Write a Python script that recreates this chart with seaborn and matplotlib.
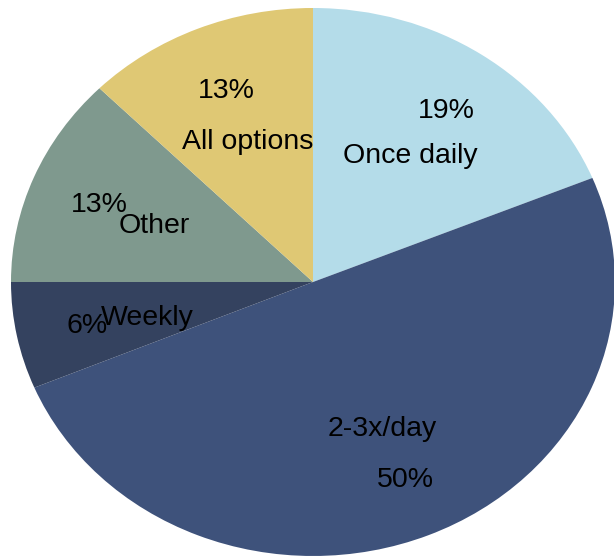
import matplotlib
matplotlib.use("Agg")
import matplotlib.pyplot as plt
import seaborn as sns

# ---- data ----
categories = ["Once daily", "2-3x/day", "Weekly", "Other", "All options"]
shares = [18.8, 49.9, 6.3, 12.5, 12.5]          # wedge sizes
pct_labels = ["19%", "50%", "6%", "13%", "13%"]  # printed percentages
colors = ["#b4dce9", "#3e527b", "#34425f", "#7f998e", "#dfc874"]

# ---- layout (pixel positions of label baselines, from top-left) ----
W, H = 614, 557
name_pos = [(410, 163), (382, 436), (147, 325), (154, 233), (248, 149)]
pct_pos = [(446, 118), (405, 487), (87, 333), (99, 212), (226, 98)]

sns.set_theme(style="white")
plt.rcParams["font.family"] = ["Liberation Sans", "DejaVu Sans"]

fig = plt.figure(figsize=(W / 100, H / 100), dpi=100)
cx, cy, rx, ry = 313, 282, 302, 274
ax = fig.add_axes([(cx - rx) / W, (H - (cy + ry)) / H, 2 * rx / W, 2 * ry / H])
ax.pie(shares, colors=colors, startangle=90, counterclock=False,
       wedgeprops=dict(linewidth=0))
ax.set_aspect("auto")
ax.set_xlim(-1, 1)
ax.set_ylim(-1, 1)
ax.axis("off")

for name, (x, y) in zip(categories, name_pos):
    fig.text(x / W, 1 - y / H, name, ha="center", va="baseline",
             fontsize=20.5, color="black")
for p, (x, y) in zip(pct_labels, pct_pos):
    fig.text(x / W, 1 - y / H, p, ha="center", va="baseline",
             fontsize=20.5, color="black")

fig.savefig("out.png", dpi=100, facecolor="white")
